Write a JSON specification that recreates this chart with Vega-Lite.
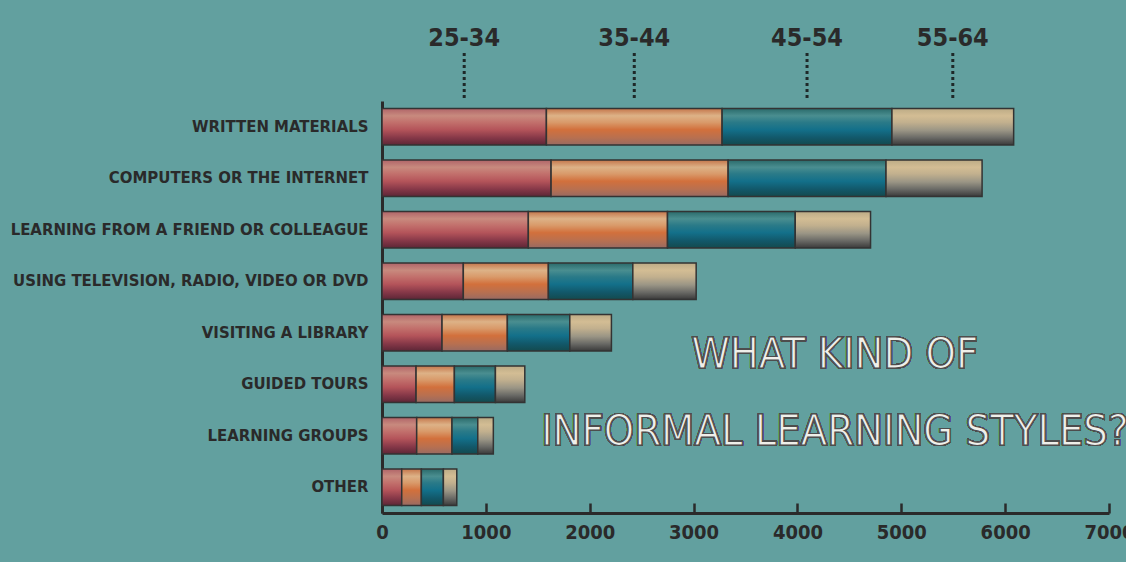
{
  "$schema": "https://vega.github.io/schema/vega-lite/v6.json",
  "background": "#62a09f",
  "padding": {"left": 10, "top": 25, "right": 0, "bottom": 30},
  "spacing": 0,
  "config": {
    "view": {"stroke": null},
    "font": "DejaVu Sans Condensed, sans-serif",
    "axis": {
      "grid": false,
      "title": null,
      "labelColor": "#2a2a2a",
      "domainColor": "#2a2a2a",
      "tickColor": "#2a2a2a",
      "labelFont": "DejaVu Sans Condensed, sans-serif",
      "labelFontWeight": "bold"
    }
  },
  "datasets": {
    "d": [
      {"style": "WRITTEN MATERIALS", "age": "25-34", "value": 1583},
      {"style": "WRITTEN MATERIALS", "age": "35-44", "value": 1692},
      {"style": "WRITTEN MATERIALS", "age": "45-54", "value": 1635},
      {"style": "WRITTEN MATERIALS", "age": "55-64", "value": 1172},
      {"style": "COMPUTERS OR THE INTERNET", "age": "25-34", "value": 1628},
      {"style": "COMPUTERS OR THE INTERNET", "age": "35-44", "value": 1705},
      {"style": "COMPUTERS OR THE INTERNET", "age": "45-54", "value": 1520},
      {"style": "COMPUTERS OR THE INTERNET", "age": "55-64", "value": 925},
      {"style": "LEARNING FROM A FRIEND OR COLLEAGUE", "age": "25-34", "value": 1409},
      {"style": "LEARNING FROM A FRIEND OR COLLEAGUE", "age": "35-44", "value": 1340},
      {"style": "LEARNING FROM A FRIEND OR COLLEAGUE", "age": "45-54", "value": 1230},
      {"style": "LEARNING FROM A FRIEND OR COLLEAGUE", "age": "55-64", "value": 725},
      {"style": "USING TELEVISION, RADIO, VIDEO OR DVD", "age": "25-34", "value": 783},
      {"style": "USING TELEVISION, RADIO, VIDEO OR DVD", "age": "35-44", "value": 819},
      {"style": "USING TELEVISION, RADIO, VIDEO OR DVD", "age": "45-54", "value": 813},
      {"style": "USING TELEVISION, RADIO, VIDEO OR DVD", "age": "55-64", "value": 610},
      {"style": "VISITING A LIBRARY", "age": "25-34", "value": 578},
      {"style": "VISITING A LIBRARY", "age": "35-44", "value": 629},
      {"style": "VISITING A LIBRARY", "age": "45-54", "value": 601},
      {"style": "VISITING A LIBRARY", "age": "55-64", "value": 401},
      {"style": "GUIDED TOURS", "age": "25-34", "value": 328},
      {"style": "GUIDED TOURS", "age": "35-44", "value": 369},
      {"style": "GUIDED TOURS", "age": "45-54", "value": 395},
      {"style": "GUIDED TOURS", "age": "55-64", "value": 283},
      {"style": "LEARNING GROUPS", "age": "25-34", "value": 334},
      {"style": "LEARNING GROUPS", "age": "35-44", "value": 340},
      {"style": "LEARNING GROUPS", "age": "45-54", "value": 248},
      {"style": "LEARNING GROUPS", "age": "55-64", "value": 150},
      {"style": "OTHER", "age": "25-34", "value": 190},
      {"style": "OTHER", "age": "35-44", "value": 189},
      {"style": "OTHER", "age": "45-54", "value": 212},
      {"style": "OTHER", "age": "55-64", "value": 129}
    ]
  },
  "data": {"name": "d"},
  "vconcat": [
    {
      "width": 727,
      "height": 23,
      "transform": [{"filter": "datum.style === 'WRITTEN MATERIALS'"}],
      "mark": {"type": "text", "fontSize": 25, "fontWeight": "bold", "color": "#2a2a2a", "baseline": "middle", "align": "center"},
      "encoding": {
        "x": {"field": "value", "type": "quantitative", "stack": "zero", "bandPosition": 0.5, "scale": {"domain": [0, 7000]}, "axis": null},
        "detail": {"field": "age"},
        "order": {"field": "age", "sort": "ascending"},
        "text": {"field": "age"}
      }
    },
    {
      "width": 727,
      "height": 46,
      "transform": [{"filter": "datum.style === 'WRITTEN MATERIALS'"}],
      "mark": {"type": "rule", "strokeDash": [3, 3], "strokeWidth": 3, "color": "#1e2828"},
      "encoding": {
        "x": {"field": "value", "type": "quantitative", "stack": "zero", "bandPosition": 0.5, "scale": {"domain": [0, 7000]}, "axis": null},
        "detail": {"field": "age"},
        "order": {"field": "age", "sort": "ascending"}
      }
    },
    {
      "width": 727,
      "height": 412,
      "layer": [
        {
          "transform": [{"stack": "value", "groupby": ["style"], "sort": [{"field": "age", "order": "ascending"}], "as": ["v0", "v1"]}],
          "encoding": {
            "y": {
              "field": "style", "type": "nominal",
              "sort": ["WRITTEN MATERIALS", "COMPUTERS OR THE INTERNET", "LEARNING FROM A FRIEND OR COLLEAGUE", "USING TELEVISION, RADIO, VIDEO OR DVD", "VISITING A LIBRARY", "GUIDED TOURS", "LEARNING GROUPS", "OTHER"],
              "scale": {"paddingInner": 0.29, "paddingOuter": 0.145},
              "axis": {"domainWidth": 3, "ticks": false, "labelPadding": 14, "labelFontSize": 16.6, "labelLimit": 420}
            },
            "x": {
              "field": "v0", "type": "quantitative",
              "scale": {"domain": [0, 7000]},
              "axis": {"values": [0, 1000, 2000, 3000, 4000, 5000, 6000, 7000], "format": "d", "labelFlush": false, "domainWidth": 3, "tickSize": -10, "tickWidth": 2.5, "labelFontSize": 20, "labelPadding": 19}
            },
            "x2": {"field": "v1"}
          },
          "layer": [
            {
              "transform": [{"filter": "datum.age === '25-34'"}],
              "mark": {"type": "bar", "stroke": "#333333", "strokeWidth": 1.5,
                "fill": {"gradient": "linear", "x1": 0, "y1": 0, "x2": 0, "y2": 1,
                  "stops": [{"offset": 0, "color": "#b06468"}, {"offset": 0.2, "color": "#c88a7e"}, {"offset": 0.38, "color": "#c2706c"}, {"offset": 0.58, "color": "#b4545a"}, {"offset": 0.8, "color": "#863848"}, {"offset": 1, "color": "#5c2636"}]}}
            },
            {
              "transform": [{"filter": "datum.age === '35-44'"}],
              "mark": {"type": "bar", "stroke": "#333333", "strokeWidth": 1.5,
                "fill": {"gradient": "linear", "x1": 0, "y1": 0, "x2": 0, "y2": 1,
                  "stops": [{"offset": 0, "color": "#c4754a"}, {"offset": 0.2, "color": "#ddb287"}, {"offset": 0.38, "color": "#d99a6a"}, {"offset": 0.58, "color": "#d2703c"}, {"offset": 0.8, "color": "#b87050"}, {"offset": 1, "color": "#986a62"}]}}
            },
            {
              "transform": [{"filter": "datum.age === '45-54'"}],
              "mark": {"type": "bar", "stroke": "#333333", "strokeWidth": 1.5,
                "fill": {"gradient": "linear", "x1": 0, "y1": 0, "x2": 0, "y2": 1,
                  "stops": [{"offset": 0, "color": "#2a6a6a"}, {"offset": 0.2, "color": "#4a8e90"}, {"offset": 0.38, "color": "#2a7a88"}, {"offset": 0.58, "color": "#13708a"}, {"offset": 0.8, "color": "#12586a"}, {"offset": 1, "color": "#134a4e"}]}}
            },
            {
              "transform": [{"filter": "datum.age === '55-64'"}],
              "mark": {"type": "bar", "stroke": "#333333", "strokeWidth": 1.5,
                "fill": {"gradient": "linear", "x1": 0, "y1": 0, "x2": 0, "y2": 1,
                  "stops": [{"offset": 0, "color": "#bcab86"}, {"offset": 0.2, "color": "#d3bd94"}, {"offset": 0.38, "color": "#c2b08e"}, {"offset": 0.6, "color": "#9a9585"}, {"offset": 0.8, "color": "#6a6a66"}, {"offset": 1, "color": "#3a3a3a"}]}}
            }
          ]
        },
        {
          "mark": {"type": "text", "text": ["WHAT KIND OF", "INFORMAL LEARNING STYLES?"], "fontSize": 43, "fontWeight": "normal", "fill": "#efefea", "stroke": "#4d4d4d", "strokeWidth": 1.2, "lineHeight": 77, "baseline": "middle", "align": "center", "dy": -29},
          "encoding": {
            "x": {"datum": 4360, "type": "quantitative"},
            "y": {"datum": "GUIDED TOURS", "type": "nominal"}
          }
        }
      ]
    }
  ]
}
